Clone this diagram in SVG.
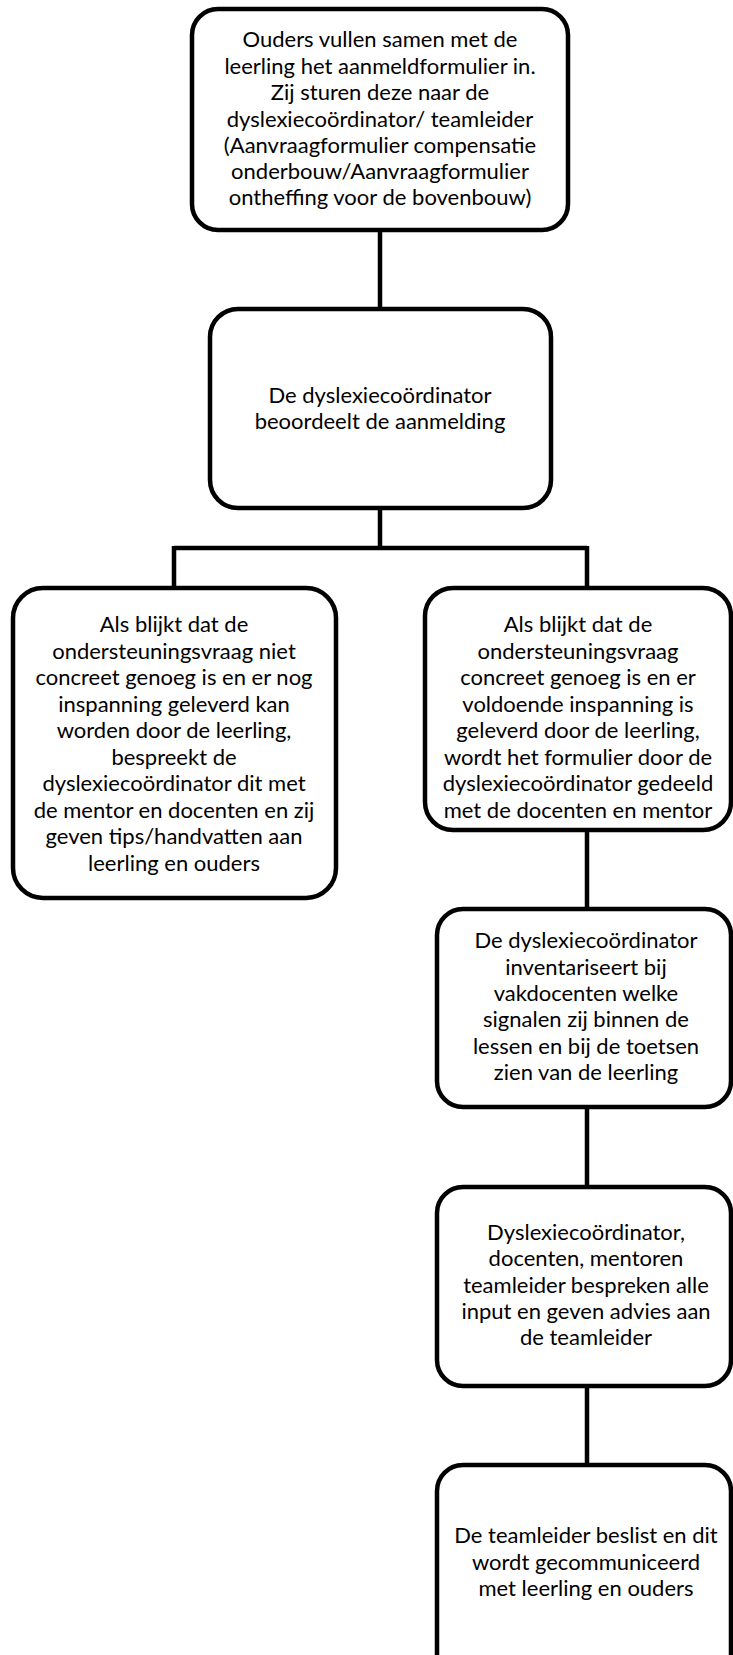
<svg xmlns="http://www.w3.org/2000/svg" width="733" height="1655" viewBox="0 0 733 1655">
<style>
.box{fill:#fff;stroke:#000;stroke-width:4.5}
.conn{fill:none;stroke:#000;stroke-width:4.5}
text{font-family:Lato,"Open Sans",sans-serif;font-size:22px;fill:#000;text-anchor:middle}
</style>
<rect width="733" height="1655" fill="#fff"/>
<g id="connectors">
<path class="conn" d="M380 230V309"/>
<path class="conn" d="M380 508V548M174 548H587M174 546V588M587 546V588"/>
<path class="conn" d="M587 830V909"/>
<path class="conn" d="M587 1107V1187"/>
<path class="conn" d="M587 1386V1465"/>
</g>
<g id="n1">
<rect class="box" x="192" y="9" width="376" height="221" rx="26"/>
<text x="380" y="47">Ouders vullen samen met de</text>
<text x="380" y="73.5">leerling het aanmeldformulier in.</text>
<text x="380" y="100">Zij sturen deze naar de</text>
<text x="380" y="126.5">dyslexiecoördinator/ teamleider</text>
<text x="380" y="152.5">(Aanvraagformulier compensatie</text>
<text x="380" y="179">onderbouw/Aanvraagformulier</text>
<text x="380" y="205">ontheffing voor de bovenbouw)</text>
</g>
<g id="n2">
<rect class="box" x="210" y="309" width="341" height="199" rx="28"/>
<text x="380" y="403">De dyslexiecoördinator</text>
<text x="380" y="429">beoordeelt de aanmelding</text>
</g>
<g id="n3">
<rect class="box" x="13" y="588" width="323" height="310" rx="30"/>
<text x="174" y="632">Als blijkt dat de</text>
<text x="174" y="658.5">ondersteuningsvraag niet</text>
<text x="174" y="685">concreet genoeg is en er nog</text>
<text x="174" y="711.5">inspanning geleverd kan</text>
<text x="174" y="738">worden door de leerling,</text>
<text x="174" y="764.5">bespreekt de</text>
<text x="174" y="791">dyslexiecoördinator dit met</text>
<text x="174" y="817.5">de mentor en docenten en zij</text>
<text x="174" y="844">geven tips/handvatten aan</text>
<text x="174" y="870.5">leerling en ouders</text>
</g>
<g id="n4">
<rect class="box" x="425" y="588" width="306" height="242" rx="28"/>
<text x="578" y="632">Als blijkt dat de</text>
<text x="578" y="658.5">ondersteuningsvraag</text>
<text x="578" y="685">concreet genoeg is en er</text>
<text x="578" y="711.5">voldoende inspanning is</text>
<text x="578" y="738">geleverd door de leerling,</text>
<text x="578" y="764.5">wordt het formulier door de</text>
<text x="578" y="791">dyslexiecoördinator gedeeld</text>
<text x="578" y="818">met de docenten en mentor</text>
</g>
<g id="n5">
<rect class="box" x="437" y="909" width="294" height="198" rx="26"/>
<text x="586" y="948">De dyslexiecoördinator</text>
<text x="586" y="974.5">inventariseert bij</text>
<text x="586" y="1001">vakdocenten welke</text>
<text x="586" y="1027">signalen zij binnen de</text>
<text x="586" y="1053.5">lessen en bij de toetsen</text>
<text x="586" y="1080">zien van de leerling</text>
</g>
<g id="n6">
<rect class="box" x="437" y="1187" width="294" height="199" rx="26"/>
<text x="586" y="1240">Dyslexiecoördinator,</text>
<text x="586" y="1266">docenten, mentoren</text>
<text x="586" y="1292.5">teamleider bespreken alle</text>
<text x="586" y="1319">input en geven advies aan</text>
<text x="586" y="1345">de teamleider</text>
</g>
<g id="n7">
<rect class="box" x="437" y="1465" width="294" height="230" rx="26"/>
<text x="586" y="1543">De teamleider beslist en dit</text>
<text x="586" y="1569.5">wordt gecommuniceerd</text>
<text x="586" y="1595.5">met leerling en ouders</text>
</g>
</svg>
